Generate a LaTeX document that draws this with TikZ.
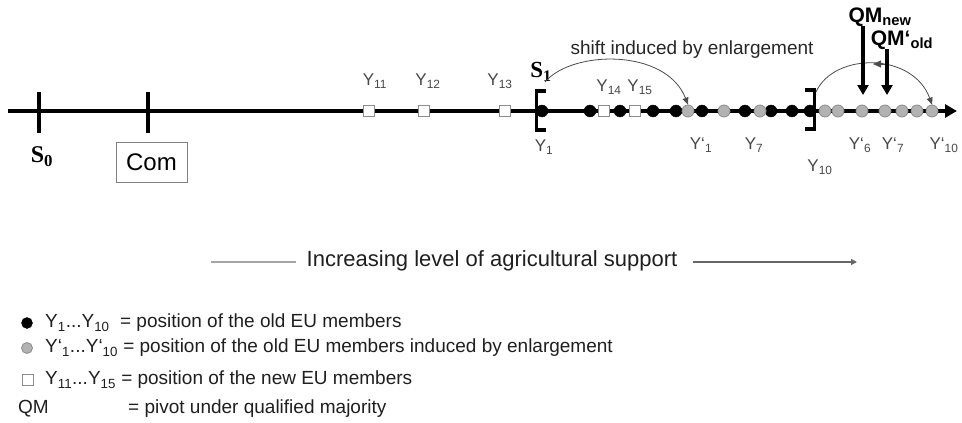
\documentclass[tikz,border=0pt]{standalone}
\usepackage{fontspec}
\setmainfont{Liberation Sans}
\newfontfamily\serifbold{Liberation Serif}
\usetikzlibrary{arrows.meta}
\begin{document}
\begin{tikzpicture}[x=1pt,y=-1pt,
  bdot/.style={circle,fill=black,draw=black,inner sep=0pt,minimum size=12pt},
  gdot/.style={circle,fill=black!30,draw=black!45,line width=0.8pt,inner sep=0pt,minimum size=12pt},
  wsq/.style={rectangle,fill=white,draw=black!45,line width=0.8pt,inner sep=0pt,minimum size=11pt},
  ylab/.style={font=\fontsize{17}{17}\selectfont,text=black!72,inner sep=0pt},
  slab/.style={font=\serifbold\bfseries\fontsize{23}{23}\selectfont,inner sep=0pt},
  qmlab/.style={font=\bfseries\fontsize{21}{21}\selectfont,inner sep=0pt},
  txt/.style={font=\fontsize{19}{19}\selectfont,text=black!88,inner sep=0pt},
  axis/.style={line width=4pt},
  thinarc/.style={line width=0.8pt,draw=black!70,-{Triangle[length=7pt,width=6pt]}},
  bigarrow/.style={line width=4pt,-{Triangle[length=10pt,width=11pt]}},
  brk/.style={line width=3.5pt,line cap=butt,line join=miter}
]
\useasboundingbox (0,0) rectangle (962,423);

% main axis
\coordinate (ax0) at (8,111);
\coordinate (ax1) at (957,111);
\draw[axis,-{Triangle[length=12pt,width=13pt]}] (ax0) -- (ax1);

% ticks
\coordinate (t0a) at (39,92); \coordinate (t0b) at (39,133);
\coordinate (t1a) at (148,92); \coordinate (t1b) at (148,133);
\draw[axis] (t0a) -- (t0b);
\draw[axis] (t1a) -- (t1b);
\node[slab,font=\serifbold\bfseries\fontsize{24}{24}\selectfont] (S0) at (42,157) {S\textsubscript{0}};
\node[draw=black!50,line width=0.8pt,minimum width=71pt,minimum height=40pt,inner sep=0pt,font=\fontsize{24}{24}\selectfont] (com) at (151.5,162) {Com};

% brackets
\draw[brk] (546,91) -- (536.5,91) -- (536.5,130) -- (546,130);
\draw[brk] (805,90) -- (814.5,90) -- (814.5,129) -- (805,129);

% new members squares
\node[wsq] (y11) at (369,111) {};
\node[wsq] (y12) at (424,111) {};
\node[wsq] (y13) at (505,111) {};
\node[wsq] (y14) at (604,111) {};
\node[wsq] (y15) at (635,111) {};

% old members black
\foreach \x/\n in {542/b1,590/b2,620/b3,653/b4,676/b5,702/b6,745/b7,771/b8,792/b9,810/b10}
  \node[bdot] (\n) at (\x,111) {};

% shifted grey
\foreach \x/\n in {688/g1,724/g2,760/g3,825/g4,838/g5,862/g6,885/g7,902/g8,917/g9,932/g10}
  \node[gdot] (\n) at (\x,111) {};

% labels
\node[ylab] at (375,81) {Y\textsubscript{11}};
\node[ylab] at (428,81) {Y\textsubscript{12}};
\node[ylab] at (500,81) {Y\textsubscript{13}};
\node[ylab] at (609,87) {Y\textsubscript{14}};
\node[ylab] at (640,87) {Y\textsubscript{15}};
\node[ylab] at (544,147) {Y\textsubscript{1}};
\node[ylab] at (701,145) {Y‘\textsubscript{1}};
\node[ylab] at (754,145) {Y\textsubscript{7}};
\node[ylab] at (820,167) {Y\textsubscript{10}};
\node[ylab] at (860,145) {Y‘\textsubscript{6}};
\node[ylab] at (893,145) {Y‘\textsubscript{7}};
\node[ylab] at (944,145) {Y‘\textsubscript{10}};
\node[slab] (S1) at (541,72) {S\textsubscript{1}};

% shift arc
\node[txt,text=black!85] (shift) at (692,50) {shift induced by enlargement};
\coordinate (arcL) at (545,82);
\draw[thinarc] (arcL) .. controls (572,50) and (666,48) .. (g1.north);
\coordinate (arcR) at (816,92);
\draw[thinarc] (arcR) .. controls (834,52) and (913,52) .. (g10.north);
\coordinate (tipA) at (886,64); \coordinate (tipB) at (873,64);
\draw[line width=0.8pt,draw=black!70,-{Triangle[length=8pt,width=7pt]}] (tipA) -- (tipB);

% QM arrows
\node[qmlab] (qmnew) at (880,17) {QM\textsubscript{new}};
\node[qmlab] (qmold) at (902,40) {QM‘\textsubscript{old}};
\coordinate (qn0) at (863,26); \coordinate (qn1) at (863,95);
\coordinate (qo0) at (887,49); \coordinate (qo1) at (887,95);
\draw[bigarrow] (qn0) -- (qn1);
\draw[bigarrow] (qo0) -- (qo1);

% increasing level
\node[font=\fontsize{22}{22}\selectfont,text=black!88,inner sep=0pt] (inc) at (492,261) {Increasing level of agricultural support};
\coordinate (l0) at (211,262); \coordinate (l1) at (296,262);
\coordinate (r0) at (693,262); \coordinate (r1) at (857,262);
\draw[line width=1.2pt,draw=black!35] (l0) -- (l1);
\draw[line width=1.2pt,draw=black!60,-{Triangle[length=6pt,width=6pt]}] (r0) -- (r1);

% legend
\node[bdot,minimum size=11pt] (lb) at (27,323) {};
\node[txt,anchor=west] at (45,323) {Y\textsubscript{1}...Y\textsubscript{10} \ = position of the old EU members};
\node[gdot,minimum size=11pt] (lg) at (27,348) {};
\node[txt,anchor=west] at (45,348) {Y‘\textsubscript{1}...Y‘\textsubscript{10} = position of the old EU members induced by enlargement};
\node[wsq,minimum size=11pt] (ls) at (28,380) {};
\node[txt,anchor=west] at (45,380) {Y\textsubscript{11}...Y\textsubscript{15} = position of the new EU members};
\node[txt,anchor=west] at (18,409) {QM};
\node[txt,anchor=west] at (128,409) {= pivot under qualified majority};
\end{tikzpicture}
\end{document}
